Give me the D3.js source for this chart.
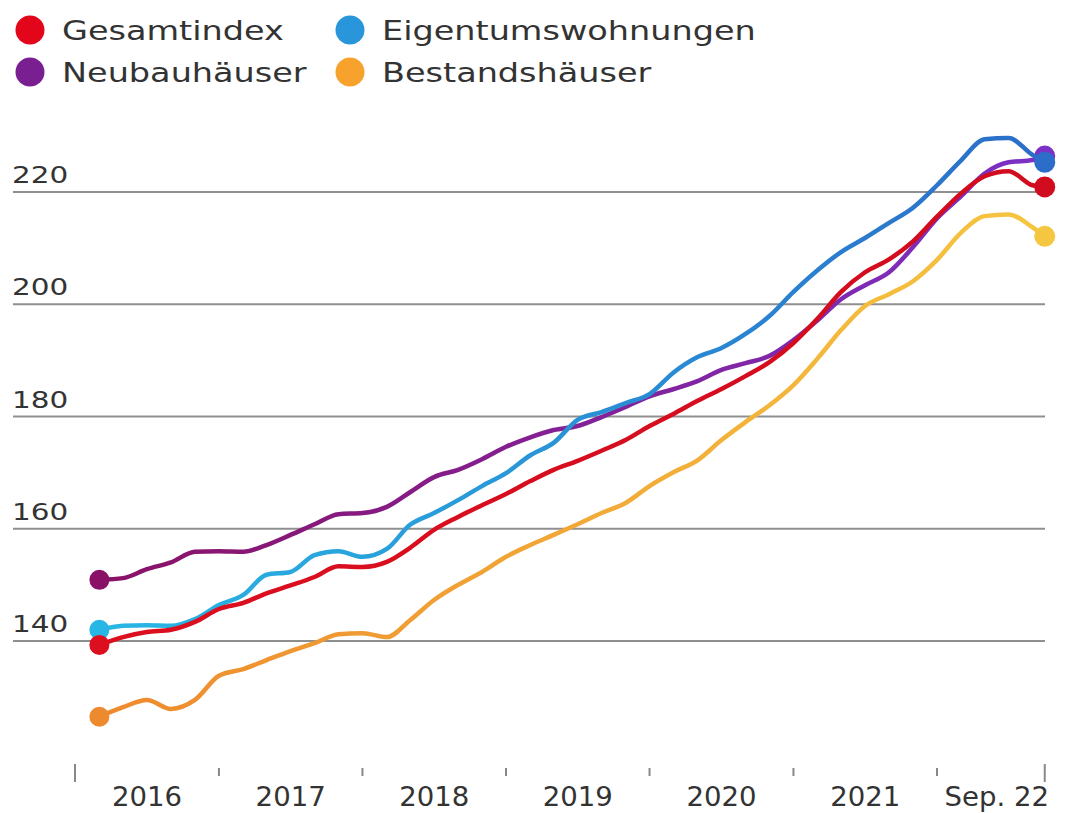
<!DOCTYPE html>
<html>
<head>
<meta charset="utf-8">
<script src="https://cdn.jsdelivr.net/npm/d3@7"></script>
<style>
  html, body { margin: 0; padding: 0; background: #fff; }
  svg text { font-family: "DejaVu Sans", sans-serif; fill: #333; }
</style>
</head>
<body>
<svg id="chart" width="1065" height="813"></svg>
<script>
// Monthly index values, read every second month (plus the final Sep. 2022 point)
const dates = [
    "2016-02", "2016-04", "2016-06", "2016-08", "2016-10", "2016-12",
    "2017-02", "2017-04", "2017-06", "2017-08", "2017-10", "2017-12",
    "2018-02", "2018-04", "2018-06", "2018-08", "2018-10", "2018-12",
    "2019-02", "2019-04", "2019-06", "2019-08", "2019-10", "2019-12",
    "2020-02", "2020-04", "2020-06", "2020-08", "2020-10", "2020-12",
    "2021-02", "2021-04", "2021-06", "2021-08", "2021-10", "2021-12",
    "2022-02", "2022-04", "2022-06", "2022-08", "2022-09"
];

const gesamtindex = [
    139.3, 140.7, 141.6, 142.0, 143.4, 145.7,
    146.8, 148.5, 149.9, 151.4, 153.3, 153.2,
    154.1, 156.6, 159.8, 162.1, 164.2, 166.2,
    168.5, 170.5, 172.1, 173.9, 175.8, 178.3,
    180.5, 182.8, 184.9, 187.2, 189.7, 193.1,
    197.5, 202.2, 205.7, 208.0, 211.2, 215.6,
    219.8, 222.8, 223.7, 221.2, 220.9
];

const eigentumswohnungen = [
    142.0, 142.7, 142.8, 142.7, 143.9, 146.4,
    148.2, 151.8, 152.3, 155.3, 156.0, 155.0,
    156.4, 160.7, 162.8, 165.1, 167.6, 169.9,
    173.1, 175.3, 179.4, 180.8, 182.4, 184.0,
    187.9, 190.6, 192.2, 194.7, 197.9, 202.2,
    206.1, 209.3, 211.8, 214.5, 217.2, 221.2,
    225.7, 229.4, 229.6, 226.6, 225.3
];

const neubauhaeuser = [
    150.9, 151.2, 152.8, 154.0, 155.9, 156.0,
    155.9, 157.1, 158.9, 160.8, 162.6, 162.8,
    163.9, 166.5, 169.2, 170.5, 172.4, 174.6,
    176.3, 177.6, 178.3, 179.9, 181.7, 183.6,
    184.9, 186.3, 188.3, 189.5, 190.8, 193.6,
    197.2, 200.9, 203.4, 205.7, 210.2, 215.3,
    219.3, 223.3, 225.3, 225.7, 226.4
];

const bestandshaeuser = [
    126.5, 128.2, 129.5, 127.9, 129.5, 133.8,
    135.0, 136.6, 138.2, 139.6, 141.2, 141.4,
    140.7, 143.7, 147.3, 150.0, 152.3, 155.0,
    157.1, 158.9, 160.8, 162.8, 164.6, 167.6,
    170.1, 172.2, 175.8, 179.0, 182.0, 185.6,
    190.4, 195.4, 199.7, 201.8, 204.1, 207.9,
    212.8, 215.7, 216.0, 213.7, 212.1
];

const yTicks = [140, 160, 180, 200, 220];
const yearLabels = ["2016", "2017", "2018", "2019", "2020", "2021", "Sep. 22"];

const parseMonth = d3.timeParse("%Y-%m");
const months = dates.map(parseMonth);

// drawing order matters: red sits on top at the start, blue over purple at the end
const series = [
    { name: "Bestandshäuser", values: bestandshaeuser, from: "#ee8a2e", to: "#f5c640", dot: "#f7a22d" },
    { name: "Neubauhäuser", values: neubauhaeuser, from: "#8a1266", to: "#7c30c6", dot: "#7a1f92" },
    { name: "Eigentumswohnungen", values: eigentumswohnungen, from: "#28b7e4", to: "#2b6dc8", dot: "#2996dc" },
    { name: "Gesamtindex", values: gesamtindex, from: "#dc0f1f", to: "#d10c1e", dot: "#e3061b" }
];
const legendOrder = ["Gesamtindex", "Eigentumswohnungen", "Neubauhäuser", "Bestandshäuser"];

const svg = d3.select("#chart");

// year separators sit between December and January
const x = d3.scaleTime()
    .domain([new Date(2015, 11, 1), new Date(2021, 11, 1)])
    .range([75, 937]);

const y = d3.scaleLinear()
    .domain([140, 220])
    .range([641, 192]);

// stretch text horizontally a bit, the source artwork is wide
const stretch = (sel, k) => sel.each(function () {
    const len = this.getComputedTextLength();
    d3.select(this).attr("textLength", len * k).attr("lengthAdjust", "spacingAndGlyphs");
});

// gridlines + value labels
const grid = svg.append("g");
grid.selectAll("line")
    .data(yTicks)
    .join("line")
    .attr("x1", 13)
    .attr("x2", 1045)
    .attr("y1", d => y(d))
    .attr("y2", d => y(d))
    .attr("stroke", "#8f8f8f")
    .attr("stroke-width", 2);

grid.selectAll("text")
    .data(yTicks)
    .join("text")
    .attr("x", 12)
    .attr("y", d => y(d) - 9)
    .attr("font-size", 23)
    .text(d => d)
    .call(stretch, 1.28);

// x axis separators and labels
const tickDates = d3.range(2015, 2022).map(yr => new Date(yr, 11, 1)).concat([months[months.length - 1]]);
svg.append("g")
    .selectAll("line")
    .data(tickDates)
    .join("line")
    .attr("x1", d => x(d))
    .attr("x2", d => x(d))
    .attr("y1", (d, i) => (i === 0 || i === tickDates.length - 1) ? 764 : 768)
    .attr("y2", (d, i) => (i === 0 || i === tickDates.length - 1) ? 782 : 776)
    .attr("stroke", "#888")
    .attr("stroke-width", 2);

svg.append("g")
    .selectAll("text")
    .data(yearLabels)
    .join("text")
    .attr("x", (d, i) => (x(tickDates[i]) + x(tickDates[i + 1])) / 2 + (i === yearLabels.length - 1 ? 6 : 0))
    .attr("y", 806)
    .attr("text-anchor", "middle")
    .attr("font-size", 26)
    .text(d => d)
    .call(stretch, 1.06);

// gradients along x
const defs = svg.append("defs");
series.forEach((s, i) => {
    const g = defs.append("linearGradient")
        .attr("id", `grad${i}`)
        .attr("gradientUnits", "userSpaceOnUse")
        .attr("x1", x(months[0]))
        .attr("x2", x(months[months.length - 1]))
        .attr("y1", 0)
        .attr("y2", 0);
    g.append("stop").attr("offset", "0%").attr("stop-color", s.from);
    g.append("stop").attr("offset", "100%").attr("stop-color", s.to);
});

const line = d3.line()
    .x((d, i) => x(months[i]))
    .y(d => y(d))
    .curve(d3.curveMonotoneX);

series.forEach((s, i) => {
    const g = svg.append("g");
    g.append("path")
        .attr("d", line(s.values))
        .attr("fill", "none")
        .attr("stroke", `url(#grad${i})`)
        .attr("stroke-width", 4.5)
        .attr("stroke-linejoin", "round")
        .attr("stroke-linecap", "round");
    const last = s.values.length - 1;
    g.append("circle")
        .attr("cx", x(months[0]))
        .attr("cy", y(s.values[0]))
        .attr("r", 10)
        .attr("fill", s.from);
    g.append("circle")
        .attr("cx", x(months[last]))
        .attr("cy", y(s.values[last]))
        .attr("r", 10.5)
        .attr("fill", s.to);
});

// legend, two columns
const legend = svg.append("g")
    .selectAll("g")
    .data(legendOrder.map(n => series.find(s => s.name === n)))
    .join("g")
    .attr("transform", (d, i) => `translate(${i % 2 ? 350 : 30},${i < 2 ? 30 : 72})`);

legend.append("circle")
    .attr("r", 14.5)
    .attr("fill", d => d.dot);

legend.append("text")
    .attr("x", 32)
    .attr("y", 10)
    .attr("font-size", 27)
    .text(d => d.name)
    .call(stretch, 1.24);
</script>
</body>
</html>
